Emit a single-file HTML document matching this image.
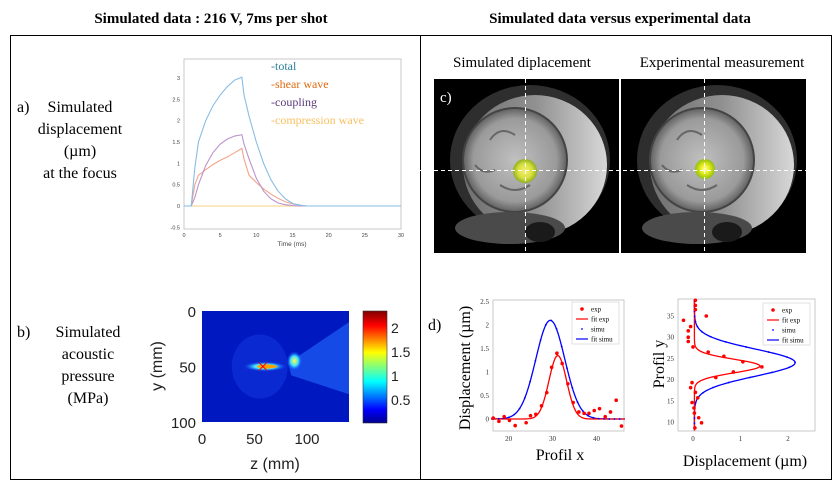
<!DOCTYPE html>
<html><head><meta charset="utf-8"><style>
body{margin:0;background:#fff;width:838px;height:484px;overflow:hidden;font-family:"Liberation Serif",serif}
svg{position:absolute;left:0;top:0}
</style></head><body>
<svg width="838" height="484" viewBox="0 0 838 484" xmlns="http://www.w3.org/2000/svg">
<defs>
<linearGradient id="jet" x1="0" y1="1" x2="0" y2="0">
<stop offset="0" stop-color="#00008f"/><stop offset="0.12" stop-color="#0000ff"/><stop offset="0.37" stop-color="#00ffff"/><stop offset="0.5" stop-color="#7fff7f"/><stop offset="0.63" stop-color="#ffff00"/><stop offset="0.87" stop-color="#ff0000"/><stop offset="1" stop-color="#800000"/>
</linearGradient>
<radialGradient id="blobS"><stop offset="0" stop-color="#f4f070"/><stop offset="0.6" stop-color="#d8e040"/><stop offset="1" stop-color="#90b020"/></radialGradient>
<radialGradient id="blobE"><stop offset="0" stop-color="#ffffc0"/><stop offset="0.4" stop-color="#f0f020"/><stop offset="1" stop-color="#90c010"/></radialGradient>
<linearGradient id="skullG" x1="0" y1="0" x2="1" y2="0"><stop offset="0" stop-color="#707070"/><stop offset="0.5" stop-color="#909090"/><stop offset="1" stop-color="#d8d8d8"/></linearGradient>
<radialGradient id="brain"><stop offset="0" stop-color="#c0c0c0"/><stop offset="0.8" stop-color="#9a9a9a"/><stop offset="1" stop-color="#606060"/></radialGradient>
<radialGradient id="hot"><stop offset="0" stop-color="#ffff40"/><stop offset="0.5" stop-color="#40e0ff"/><stop offset="1" stop-color="#0030ff" stop-opacity="0"/></radialGradient>
</defs>

<text x="211" y="23" text-anchor="middle" font-weight="bold" font-size="15">Simulated data : 216 V, 7ms per shot</text>
<text x="620" y="23" text-anchor="middle" font-weight="bold" font-size="15">Simulated data versus experimental data</text>
<rect x="10.5" y="35.5" width="821" height="444" fill="none" stroke="#000" stroke-width="1"/>
<line x1="420.5" y1="35" x2="420.5" y2="480" stroke="#000"/>

<g font-size="16" text-anchor="middle">
<text x="17" y="112" text-anchor="start">a)</text>
<text x="80" y="112">Simulated</text><text x="80" y="134">displacement</text><text x="80" y="156">(µm)</text><text x="80" y="178">at the focus</text>
</g>
<g font-size="16" text-anchor="middle">
<text x="17" y="337" text-anchor="start">b)</text>
<text x="88" y="337">Simulated</text><text x="88" y="359">acoustic</text><text x="88" y="381">pressure</text><text x="88" y="403">(MPa)</text>
</g>

<g id="chartA"></g>
<g id="heat"></g>

<g>
<text x="522" y="67" text-anchor="middle" font-size="15">Simulated  diplacement</text>
<text x="722" y="67" text-anchor="middle" font-size="15">Experimental  measurement</text>
<rect x="434" y="79" width="185" height="174" fill="#000"/>
<rect x="621" y="79" width="185" height="174" fill="#000"/>
<g>
<ellipse cx="530" cy="160" rx="80" ry="75" fill="#2e2e2e"/>
<ellipse cx="535" cy="165" rx="72" ry="70" fill="url(#skullG)"/>
<ellipse cx="515" cy="160" rx="52" ry="52" fill="url(#brain)" stroke="#444" stroke-width="2"/>
<path d="M490 140 q10 -15 25 -5 M500 185 q15 10 30 0 M475 165 q8 10 20 5" stroke="#666" stroke-width="2" fill="none"/>
<ellipse cx="510" cy="228" rx="55" ry="16" fill="#4a4a4a"/>
<ellipse cx="540" cy="232" rx="15" ry="10" fill="#1a1a1a"/>
<circle cx="525" cy="171" r="12" fill="url(#blobS)"/>
</g>
<g>
<ellipse cx="717" cy="160" rx="80" ry="75" fill="#2e2e2e"/>
<ellipse cx="722" cy="165" rx="72" ry="70" fill="url(#skullG)"/>
<ellipse cx="702" cy="160" rx="52" ry="52" fill="url(#brain)" stroke="#444" stroke-width="2"/>
<path d="M677 140 q10 -15 25 -5 M687 185 q15 10 30 0 M662 165 q8 10 20 5" stroke="#666" stroke-width="2" fill="none"/>
<ellipse cx="697" cy="228" rx="55" ry="16" fill="#4a4a4a"/>
<ellipse cx="727" cy="232" rx="15" ry="10" fill="#1a1a1a"/>
<ellipse cx="705" cy="169" rx="10" ry="10" fill="url(#blobE)"/>
</g>
<text x="440" y="102" fill="#fff" font-size="15">c)</text>
<line x1="420" y1="170.5" x2="806" y2="170.5" stroke="#fff" stroke-dasharray="4,3"/>
<line x1="525.5" y1="79" x2="525.5" y2="253" stroke="#fff" stroke-dasharray="4,3"/>
<line x1="704.5" y1="79" x2="704.5" y2="253" stroke="#fff" stroke-dasharray="4,3"/>
</g>

<g id="chartD1"></g>
<g id="chartD2"></g>
<text x="428" y="330" font-size="16">d)</text>
</svg>
<script>
// ---- Chart a data ----
const timeMs=[0,1,1.5,2,3,4,5,6,7,8,8.3,9,10,11,12,13,14,15,16,17,18,30];
const totalDisp=[0,0,0.9,1.5,2.0,2.35,2.6,2.8,2.95,3.02,2.6,2.1,1.5,1.0,0.62,0.35,0.17,0.06,0.02,0,0,0];
const shearDisp=[0,0,0.5,0.72,0.85,0.97,1.07,1.15,1.25,1.35,1.1,0.72,0.55,0.4,0.28,0.18,0.1,0.05,0.02,0,0,0];
const couplingDisp=[0,0,0.2,0.5,0.95,1.25,1.45,1.57,1.64,1.67,1.45,1.1,0.65,0.35,0.17,0.07,0.03,0.01,0,0,0,0];
const compressionDisp=[0,0,0,0,0,0,0,0,0,0,0,0,0,0,0,0,0,0,0,0,0,0];
const aYTicks=[-0.5,0,0.5,1,1.5,2,2.5,3];
const aXTicks=[0,5,10,15,20,25,30];
const aLegend=["-total","-shear wave","-coupling","-compression wave"];
// ---- Heatmap colorbar ticks ----
const cbTicks=[0.5,1,1.5,2];
const hmYTicks=[0,50,100];
const hmXTicks=[0,50,100];
// ---- Profile x data ----
const pxExpX=[16.5,17.8,19,20.2,21.5,24,25,26.2,27.5,28.7,29.8,31,32.2,33.5,34.7,36,37.2,38.3,39.5,40.7,42,43.2,44.5,45.7];
const pxExpY=[0.02,-0.05,0.05,-0.03,-0.14,-0.08,0.07,0.1,0.28,0.56,1.1,1.4,1.18,0.75,0.35,0.15,0.12,0.12,0.18,0.22,0.05,0.15,0.4,-0.15];
const pxFitExp=[1.35,31.2,2.0];   // amplitude, centre, sigma
const pxFitSimu=[2.1,29.5,3.3];
const pxXTicks=[20,30,40];
const pxYTicks=[0,0.5,1,1.5,2,2.5];
// ---- Profile y data ----
const pyExpD=[-0.2,-0.05,-0.1,-0.1,-0.1,0,0.05,0.05,0.05,0.28,0.32,0.65,1.05,1.45,0.85,0.48,-0.02,-0.05,0.05,0.1,-0.02,0.02,0.03,0.12,0.18,0.04];
const pyExpY=[34,32.5,31.5,30,29,27.7,38.7,37.5,36.5,35,26.5,25.5,24.2,23,21.8,20.5,19.3,18.1,17,15.7,14.6,13.3,12.1,11,9.8,8.6];
const pyFitExp=[1.38,23.2,1.6];
const pyFitSimu=[2.12,24,3.2];
const pyXTicks=[0,1,2];
const pyYTicks=[10,15,20,25,30,35];

const NS="http://www.w3.org/2000/svg";
function mk(p,tag,at){const e=document.createElementNS(NS,tag);for(const k in at)e.setAttribute(k,at[k]);p.appendChild(e);return e;}
function lin(d0,d1,r0,r1){return v=>r0+(v-d0)*(r1-r0)/(d1-d0);}

// ---- Chart a ----
(function(){
const g=document.getElementById('chartA');
const X=lin(0,30,184,401),Y=lin(0,3,206,78);
const fr=mk(g,'rect',{x:184,y:59,width:217,height:170,fill:'none',stroke:'#bbb','stroke-width':0.8});


aYTicks.forEach(v=>{const t=mk(g,'text',{x:180,y:Y(v)+2,'text-anchor':'end','font-size':5.5,'font-family':'Liberation Sans',fill:'#444'});t.textContent=v;
});
aXTicks.forEach(v=>{const t=mk(g,'text',{x:X(v),y:237,'text-anchor':'middle','font-size':5.5,'font-family':'Liberation Sans',fill:'#444'});t.textContent=v;
});
const xt=mk(g,'text',{x:292,y:246,'text-anchor':'middle','font-size':6.5,'font-family':'Liberation Sans',fill:'#444'});xt.textContent='Time (ms)';

const series=[[compressionDisp,'#f8d080','compression-line'],[shearDisp,'#f2a488','shear-line'],[couplingDisp,'#bb94cc','coupling-line'],[totalDisp,'#86bde4','total-line']];
series.forEach(([d,c,n])=>{const p=mk(g,'polyline',{points:timeMs.map((t,i)=>X(t)+','+Y(d[i])).join(' '),fill:'none',stroke:c,'stroke-width':1.1});
});
const lc=['#2a7f9a','#e06a10','#5a3a7a','#f8c060'];
aLegend.forEach((s,i)=>{const t=mk(g,'text',{x:271,y:70+i*18,'font-size':12,'font-family':'Liberation Serif',fill:lc[i]});t.textContent=s;
});
})();

// ---- Heatmap ----
(function(){
const g=document.getElementById('heat');
const X=lin(0,140,202,349),Y=lin(0,100,311,422);
const bg=mk(g,'rect',{x:202,y:311,width:147,height:111,fill:'#0018c0'});

const sk=mk(g,'ellipse',{cx:X(55),cy:Y(50),rx:28,ry:32,fill:'#1030d8',opacity:0.7});

const cone=mk(g,'polygon',{points:`${X(82)},${Y(47)} ${X(140)},${Y(10)} ${X(140)},${Y(75)} ${X(85)},${Y(58)}`,fill:'#1a58f0',opacity:0.8});

const f=mk(g,'ellipse',{cx:X(60),cy:Y(50),rx:22,ry:5,fill:'url(#hot)'});

const f2=mk(g,'ellipse',{cx:X(62),cy:Y(50),rx:10,ry:2,fill:'#ffa000'});

const f3=mk(g,'ellipse',{cx:X(88),cy:Y(45),rx:8,ry:10,fill:'url(#hot)'});

const c1=mk(g,'path',{d:`M${X(58)-4},${Y(50)-4} l8,8 M${X(58)+4},${Y(50)-4} l-8,8`,stroke:'#f00','stroke-width':1});

hmYTicks.forEach(v=>{const t=mk(g,'text',{x:196,y:Y(v)+6,'text-anchor':'end','font-size':15,'font-family':'Liberation Sans',fill:'#222'});t.textContent=v;
});
hmXTicks.forEach(v=>{const t=mk(g,'text',{x:X(v),y:444,'text-anchor':'middle','font-size':15,'font-family':'Liberation Sans',fill:'#222'});t.textContent=v;
});
const xl=mk(g,'text',{x:275,y:469,'text-anchor':'middle','font-size':16,'font-family':'Liberation Sans',fill:'#222'});xl.textContent='z (mm)';

const yl=mk(g,'text',{x:0,y:0,'text-anchor':'middle','font-size':16,'font-family':'Liberation Sans',fill:'#222',transform:'translate(162,366) rotate(-90)'});yl.textContent='y (mm)';

const cb=mk(g,'rect',{x:363,y:311,width:24,height:112,fill:'url(#jet)',stroke:'#333','stroke-width':0.6});

const CY=lin(0.02,2.35,423,311);
cbTicks.forEach(v=>{const t=mk(g,'text',{x:391,y:CY(v)+5,'font-size':14,'font-family':'Liberation Sans',fill:'#222'});t.textContent=v;
});
})();

function gauss(p,x){return p[0]*Math.exp(-Math.pow(x-p[1],2)/(2*p[2]*p[2]));}
function legend(g,x,y){
const items=[['exp','#f00','dot'],['fit exp','#f00','line'],['simu','#00f','sdot'],['fit simu','#00f','line']];
const b=mk(g,'rect',{x:x,y:y,width:47,height:42,fill:'#fff',stroke:'#ccc','stroke-width':0.6});

items.forEach((it,i)=>{const yy=y+7+i*10;
if(it[2]==='line')mk(g,'line',{x1:x+4,y1:yy,x2:x+16,y2:yy,stroke:it[1],'stroke-width':1.2});
else mk(g,'circle',{cx:x+10,cy:yy,r:it[2]==='dot'?1.8:0.9,fill:it[1]});
const t=mk(g,'text',{x:x+19,y:yy+2.5,'font-size':7,'font-family':'Liberation Serif'});t.textContent=it[0];
});
}

// ---- Profile x ----
(function(){
const g=document.getElementById('chartD1');
const X=lin(16,46.5,491,625),Y=lin(0,2,419,325);
const fr=mk(g,'rect',{x:493,y:300,width:131,height:131,fill:'none',stroke:'#bbb','stroke-width':0.8});

pxYTicks.forEach(v=>{const t=mk(g,'text',{x:489,y:Y(v)+2.5,'text-anchor':'end','font-size':7,'font-family':'Liberation Serif',fill:'#333'});t.textContent=v;
});
pxXTicks.forEach(v=>{const t=mk(g,'text',{x:X(v),y:441,'text-anchor':'middle','font-size':7,'font-family':'Liberation Serif',fill:'#333'});t.textContent=v;
});
const xs=[];for(let x=16;x<=46.5;x+=0.25)xs.push(x);
[[pxFitSimu,'#00f','fit-simu-line'],[pxFitExp,'#f00','fit-exp-line']].forEach(([p,c,n])=>{
const l=mk(g,'polyline',{points:xs.map(x=>X(x)+','+Y(gauss(p,x))).join(' '),fill:'none',stroke:c,'stroke-width':1.3});
});
for(let x=16.5;x<=46;x+=1.2){const c=mk(g,'circle',{cx:X(x),cy:Y(gauss(pxFitSimu,x)),r:0.9,fill:'#00f'});
}
pxExpX.forEach((x,i)=>{const c=mk(g,'circle',{cx:X(x),cy:Y(pxExpY[i]),r:1.8,fill:'#f00'});
});
legend(g,572,302);
const xl=mk(g,'text',{x:560,y:460,'text-anchor':'middle','font-size':16});xl.textContent='Profil x';

const yl=mk(g,'text',{x:0,y:0,'text-anchor':'middle','font-size':16,transform:'translate(470,368) rotate(-90)'});yl.textContent='Displacement (µm)';

})();

// ---- Profile y ----
(function(){
const g=document.getElementById('chartD2');
const X=lin(0,2,693,788),Y=lin(10,35,422,316);
const fr=mk(g,'rect',{x:678,y:299,width:137,height:132,fill:'none',stroke:'#bbb','stroke-width':0.8});

pyYTicks.forEach(v=>{const t=mk(g,'text',{x:674,y:Y(v)+2.5,'text-anchor':'end','font-size':7,'font-family':'Liberation Serif',fill:'#333'});t.textContent=v;
});
pyXTicks.forEach(v=>{const t=mk(g,'text',{x:X(v),y:441,'text-anchor':'middle','font-size':7,'font-family':'Liberation Serif',fill:'#333'});t.textContent=v;
});
const ys=[];for(let y=8;y<=39;y+=0.2)ys.push(y);
[[pyFitSimu,'#00f','fit-simu-line'],[pyFitExp,'#f00','fit-exp-line']].forEach(([p,c,n])=>{
const l=mk(g,'polyline',{points:ys.map(y=>X(gauss(p,y)+0.03)+','+Y(y)).join(' '),fill:'none',stroke:c,'stroke-width':1.3});
});
for(let y=8.5;y<=39;y+=1.2){const c=mk(g,'circle',{cx:X(gauss(pyFitSimu,y)+0.03),cy:Y(y),r:0.9,fill:'#00f'});
}
pyExpD.forEach((d,i)=>{const c=mk(g,'circle',{cx:X(d),cy:Y(pyExpY[i]),r:1.8,fill:'#f00'});
});
legend(g,763,303);
const xl=mk(g,'text',{x:745,y:466,'text-anchor':'middle','font-size':16});xl.textContent='Displacement  (µm)';

const yl=mk(g,'text',{x:0,y:0,'text-anchor':'middle','font-size':16,transform:'translate(664,364) rotate(-90)'});yl.textContent='Profil y';

})();
</script>
</body></html>
